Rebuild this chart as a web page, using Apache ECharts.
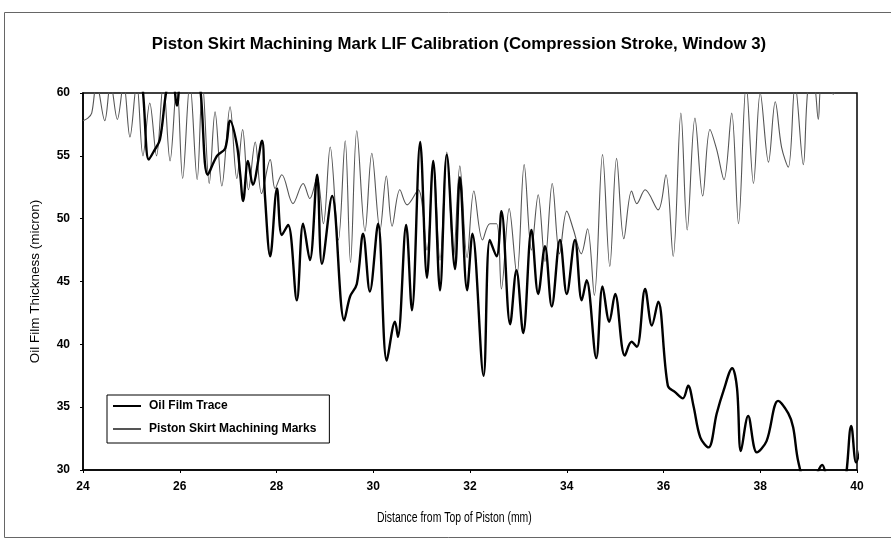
<!DOCTYPE html>
<html><head><meta charset="utf-8">
<script src="https://cdn.jsdelivr.net/npm/echarts@6/dist/echarts.min.js"></script>
<style>html,body{margin:0;padding:0;background:#fff}#c{width:891px;height:549px}</style>
</head><body><div id="c"></div>
<script>
const titleText = 'Piston Skirt Machining Mark LIF Calibration (Compression Stroke, Window 3)';
const xName = 'Distance from Top of Piston (mm)';
const yName = 'Oil Film Thickness (micron)';
const seriesNames = ['Oil Film Trace', 'Piston Skirt Machining Marks'];

const oilX = [24.0,24.6,25.1,25.22,25.36,25.47,25.59,25.74,25.85,25.94,26.05,26.3,26.42,26.58,26.77,26.94,27.04,27.18,27.25,27.31,27.41,27.51,27.70,27.76,27.87,28.01,28.11,28.24,28.42,28.55,28.69,28.84,28.94,29.15,29.40,29.52,29.66,29.79,29.93,30.10,30.28,30.45,30.51,30.68,30.80,30.97,31.11,31.24,31.38,31.52,31.69,31.79,31.94,32.05,32.28,32.41,32.55,32.65,32.83,32.96,33.10,33.27,33.41,33.55,33.69,33.86,34.00,34.17,34.31,34.41,34.61,34.74,34.88,35.00,35.20,35.34,35.45,35.62,35.76,35.89,36.09,36.24,36.40,36.51,36.62,36.76,36.93,37.10,37.24,37.42,37.52,37.60,37.75,37.93,38.13,38.37,38.58,38.68,38.79,38.95,39.10,39.28,39.45,39.70,39.88,39.98,40.20];
const oilY = [62.5,63,62,60.8,54.7,55.4,56.3,60.5,61,59.0,61.5,62,60.5,53.5,55.0,55.6,57.8,55.9,53.5,51.4,54.6,52.7,56.2,51.9,47.0,52.4,48.7,49.5,43.5,49.6,46.7,53.5,46.4,51.8,41.9,43.8,44.8,48.8,44.2,49.6,38.7,41.8,40.6,49.5,42.7,56.1,45.3,54.6,44.3,55.1,46.0,53.3,44.3,48.8,37.5,48.3,47.0,50.6,41.6,45.9,40.9,49.1,44.0,47.8,43.0,48.3,44.0,48.3,43.5,45.1,38.9,44.6,41.8,44.0,39.1,40.2,39.8,44.4,41.5,43.4,36.7,36.2,35.7,36.7,35.1,32.6,31.8,34.5,36.3,38.1,36.5,31.5,34.3,31.4,32.3,35.5,34.5,33.4,30.6,29.0,29.2,30.4,28.8,28.8,33.5,30.6,34.7];

const marksX = [24.00,24.10,24.18,24.28,24.45,24.57,24.71,24.84,24.97,25.11,25.24,25.38,25.52,25.66,25.80,25.94,26.06,26.21,26.36,26.47,26.61,26.73,26.87,27.04,27.18,27.30,27.42,27.56,27.69,27.87,27.97,28.11,28.34,28.55,28.69,28.84,28.97,29.11,29.28,29.42,29.53,29.66,29.83,29.97,30.14,30.27,30.39,30.55,30.70,30.93,31.11,31.24,31.38,31.52,31.66,31.79,31.94,32.08,32.26,32.41,32.55,32.65,32.81,32.97,33.12,33.27,33.41,33.55,33.70,33.85,34.00,34.14,34.30,34.43,34.57,34.74,34.89,35.03,35.18,35.34,35.45,35.62,35.89,36.05,36.20,36.36,36.49,36.65,36.81,36.96,37.10,37.25,37.41,37.55,37.71,37.86,38.00,38.17,38.31,38.44,38.58,38.72,38.89,38.99,39.10,39.20,39.27,39.41,39.51,39.58,39.80,40.00];
const marksY = [57.8,58.0,58.4,60.8,57.8,60.8,57.9,60.8,56.5,60.8,55.0,59.2,55.0,60.8,54.6,60.8,53.2,60.8,53.1,60.8,52.8,58.5,52.6,58.9,53.2,57.1,52.3,56.1,52.0,54.7,52.4,53.5,51.2,52.8,51.6,53.3,49.6,55.7,48.3,56.2,46.5,57.0,49.0,55.2,49.1,53.4,49.4,52.3,51.1,52.3,47.5,54.6,46.7,55.3,47.0,54.2,46.9,52.2,48.3,49.6,49.6,44.4,50.8,45.5,54.3,47.5,51.9,46.6,52.8,47.2,50.6,49.1,47.2,49.2,43.9,55.1,46.2,54.8,48.4,52.2,51.2,52.3,50.7,53.5,47.0,58.4,49.1,58.0,51.8,57.1,55.5,53.1,58.4,49.6,60.7,52.8,60.0,54.5,59.3,55.7,54.1,60.7,54.3,60.5,60.8,57.9,60.7,60.5,59.9,60.7,61,61];

const xTicks = [24,26,28,30,32,34,36,38,40];
const yTicks = [30,35,40,45,50,55,60];

const pair = (xs, ys) => xs.map((x, i) => [x, ys[i]]);
const font = 'Arial, "Liberation Sans", sans-serif';

const chart = echarts.init(document.getElementById('c'), null, {renderer: 'canvas'});
chart.setOption({
  animation: false,
  backgroundColor: '#fff',
  title: {
    text: titleText, left: 454, top: 31, textAlign: 'center',
    textStyle: {fontFamily: font, fontSize: 16.8, fontWeight: 'bold', color: '#000'}
  },
  grid: {left: 83, right: 34, top: 93, bottom: 79, show: true, borderColor: '#000', borderWidth: 1.5, containLabel: false},
  xAxis: {
    type: 'value', min: xTicks[0], max: xTicks[xTicks.length-1], interval: 2,
    axisLine: {show: true, lineStyle: {color: '#000', width: 1.5}},
    axisTick: {show: true, length: 3, lineStyle: {color: '#000'}},
    splitLine: {show: false},
    axisLabel: {fontFamily: font, fontSize: 12, fontWeight: 'bold', color: '#000', margin: 11}
  },
  yAxis: {
    type: 'value', min: yTicks[0], max: yTicks[yTicks.length-1], interval: 5,
    name: yName, nameLocation: 'middle', nameGap: 41,
    nameTextStyle: {fontFamily: font, fontSize: 13.5, color: '#000'},
    axisLine: {show: true, lineStyle: {color: '#000', width: 1.5}},
    axisTick: {show: true, length: 3, lineStyle: {color: '#000'}},
    splitLine: {show: false},
    axisLabel: {fontFamily: font, fontSize: 12, fontWeight: 'bold', color: '#000', margin: 13}
  },
  legend: {
    orient: 'vertical', left: 107, top: 395,
    data: seriesNames.map(n => ({name: n, icon: 'rect'})),
    itemWidth: 28, itemHeight: 2, itemGap: 9,
    padding: [4, 13, 7, 6],
    borderColor: '#000', borderWidth: 1,
    textStyle: {fontFamily: font, fontSize: 12, fontWeight: 'bold', color: '#000', padding: [0, 0, 0, 3], lineHeight: 14}
  },
  graphic: [
    {type: 'rect', shape: {x: 4.5, y: 12.5, width: 900, height: 525}, style: {fill: 'none', stroke: '#666', lineWidth: 1}, silent: true},
    {type: 'text', x: 377, y: 511, scaleX: 0.745, style: {text: xName, fontFamily: font, fontSize: 14, fill: '#000'}}
  ],
  series: [
    {
      name: seriesNames[1], type: 'line', data: pair(marksX, marksY),
      symbol: 'none', smooth: 0.35, clip: true, z: 2,
      itemStyle: {color: '#555'},
      lineStyle: {color: '#555', width: 1.1}
    },
    {
      name: seriesNames[0], type: 'line', data: pair(oilX, oilY),
      symbol: 'none', smooth: 0.35, clip: true, z: 3,
      itemStyle: {color: '#000'},
      lineStyle: {color: '#000', width: 2.4}
    }
  ]
});
</script></body></html>
